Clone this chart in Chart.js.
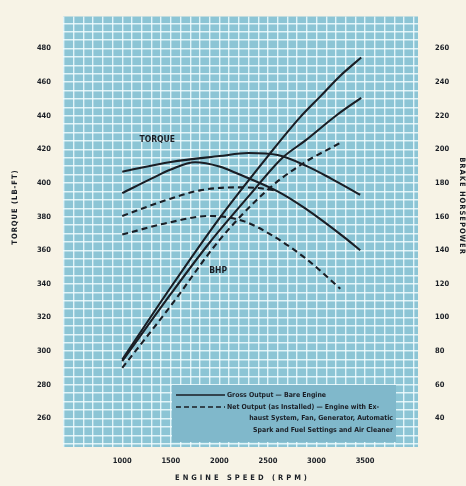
<!DOCTYPE html>
<html><head><meta charset="utf-8">
<script src="https://cdn.jsdelivr.net/npm/chart.js@4.4.0/dist/chart.umd.min.js"></script>
<style>html,body{margin:0;padding:0;background:#f7f3e6;overflow:hidden}</style>
</head><body>
<canvas id="c" width="466" height="486"></canvas>
<script>
// ---- data ----
const rpmTorqueA = [1000, 1500, 2000, 2300, 2600, 2900, 3150, 3450];
const torqueGrossA = [406.7, 412.5, 416, 417.8, 416.6, 410, 402.6, 393];
const rpmTorqueB = [1000, 1300, 1500, 1750, 2000, 2190, 2600, 2880, 3290, 3450];
const torqueGrossB = [394, 402.6, 408, 412.3, 409.8, 405.5, 395, 385, 367.5, 360];
const rpmTorqueC = [1000, 1450, 1800, 2150, 2400, 2600];
const torqueNetC = [380.4, 389.8, 395.6, 397.4, 397, 395.3];
const rpmTorqueD = [1000, 1460, 1900, 2245, 2550, 2900, 3245];
const torqueNetD = [369.3, 376.2, 380.4, 377.4, 368.6, 354.6, 337.1];
const rpmHp1 = [1000, 1500, 2000, 2500, 2830, 3040, 3240, 3460];
const hpGross1 = [75, 118, 159, 196, 219, 231.5, 243.5, 254.6];
const rpmHp2 = [1000, 1500, 1900, 2300, 2650, 2880, 3200, 3460];
const hpGross2 = [74, 114, 144.6, 172, 195, 205, 220, 230.6];
const rpmHp3 = [1000, 1500, 2000, 2490, 2830, 3250];
const hpNet3 = [70, 107, 146, 175.6, 190.5, 204];
const xTickLabels = [1000, 1500, 2000, 2500, 3000, 3500];
const torqueTickLabels = [260, 280, 300, 320, 340, 360, 380, 400, 420, 440, 460, 480];
const hpTickLabels = [40, 60, 80, 100, 120, 140, 160, 180, 200, 220, 240, 260];
const axisTitles = {x: 'ENGINE SPEED (RPM)', y: 'TORQUE (LB-FT)', y2: 'BRAKE HORSEPOWER'};
const legendLines = [
  'Gross Output \u2014 Bare Engine',
  'Net Output (as Installed) \u2014 Engine with Ex-',
  'haust System, Fan, Generator, Automatic',
  'Spark and Fuel Settings and Air Cleaner'
];

const pts = (xs, ys) => xs.map((x, i) => ({x, y: ys[i]}));
const INK = '#1a1e25';
const FAM = '"DejaVu Sans Condensed", "DejaVu Sans", sans-serif';
const tickFont = {family: FAM, size: 7.5, weight: 'bold'};

function line(label, xs, ys, axis, dashed) {
  return {label, data: pts(xs, ys), yAxisID: axis, borderColor: INK, borderWidth: 2.1,
    borderDash: dashed ? [6, 4] : [], pointRadius: 0, cubicInterpolationMode: 'monotone', fill: false};
}

const bgPlugin = {
  id: 'bg',
  beforeDraw(chart) {
    const {ctx, chartArea: a} = chart;
    ctx.save();
    ctx.fillStyle = '#f7f3e6';
    ctx.fillRect(0, 0, chart.width, chart.height);
    ctx.fillStyle = '#8cc5d5';
    ctx.fillRect(a.left, a.top, a.right - a.left, a.bottom - a.top);
    ctx.restore();
  },
  beforeDatasetsDraw(chart) {
    const {ctx, chartArea: a, scales} = chart;
    ctx.save();
    // legend box
    const bx = a.left + 109, by = a.bottom - 62, bw = 224, bh = 57;
    ctx.fillStyle = '#80b8cb';
    ctx.fillRect(bx, by, bw, bh);
    ctx.strokeStyle = INK; ctx.lineWidth = 1.6;
    ctx.beginPath(); ctx.moveTo(bx + 4, by + 10); ctx.lineTo(bx + 53, by + 10); ctx.stroke();
    ctx.setLineDash([5, 3]);
    ctx.beginPath(); ctx.moveTo(bx + 4, by + 22); ctx.lineTo(bx + 53, by + 22); ctx.stroke();
    ctx.setLineDash([]);
    ctx.fillStyle = INK;
    ctx.font = 'bold 6.9px ' + FAM;
    ctx.textBaseline = 'middle';
    ctx.textAlign = 'left';
    ctx.fillText(legendLines[0], bx + 55, by + 10);
    ctx.fillText(legendLines[1], bx + 55, by + 22);
    ctx.textAlign = 'right';
    ctx.fillText(legendLines[2], bx + bw - 3, by + 33);
    ctx.fillText(legendLines[3], bx + bw - 3, by + 45);
    // curve labels
    ctx.textAlign = 'center';
    ctx.font = 'bold 8.5px ' + FAM;
    ctx.fillText('TORQUE', scales.x.getPixelForValue(1360), scales.y.getPixelForValue(425.4));
    ctx.fillText('BHP', scales.x.getPixelForValue(1988), scales.y.getPixelForValue(347.6));
    ctx.restore();
  },
  afterDraw(chart) {
    const {ctx, chartArea: a} = chart;
    ctx.save();
    ctx.fillStyle = INK;
    ctx.textAlign = 'center';
    ctx.textBaseline = 'middle';
    ctx.font = 'bold 7.5px ' + FAM;
    if ('letterSpacing' in ctx) ctx.letterSpacing = '3px';
    ctx.fillText(axisTitles.x, (a.left + a.right) / 2 + 2, 478);
    if ('letterSpacing' in ctx) ctx.letterSpacing = '1px';
    ctx.save();
    ctx.translate(15, 207); ctx.rotate(-Math.PI / 2);
    ctx.fillText(axisTitles.y, 0, 0);
    ctx.restore();
    ctx.save();
    ctx.translate(462, 206); ctx.rotate(Math.PI / 2);
    ctx.fillText(axisTitles.y2, 0, 0);
    ctx.restore();
    ctx.restore();
  }
};

const range = (a, b, s) => { const r = []; for (let v = a; v <= b + 1e-9; v += s) r.push(v); return r; };
const gridWhite = {color: 'rgba(244,254,255,0.82)', lineWidth: 1.4, drawTicks: false};

new Chart(document.getElementById('c'), {
  type: 'line',
  data: {datasets: [
    line('Torque gross A', rpmTorqueA, torqueGrossA, 'y', false),
    line('Torque gross B', rpmTorqueB, torqueGrossB, 'y', false),
    line('Torque net C', rpmTorqueC, torqueNetC, 'y', true),
    line('Torque net D', rpmTorqueD, torqueNetD, 'y', true),
    line('BHP gross 1', rpmHp1, hpGross1, 'y2', false),
    line('BHP gross 2', rpmHp2, hpGross2, 'y2', false),
    line('BHP net 3', rpmHp3, hpNet3, 'y2', true)
  ]},
  options: {
    responsive: false, animation: false, devicePixelRatio: 1,
    layout: {padding: {top: 10, left: 0, right: 0, bottom: 0}},
    plugins: {legend: {display: false}, tooltip: {enabled: false}},
    scales: {
      x: {type: 'linear', position: 'bottom', min: 390, max: 4045,
        afterBuildTicks: s => { s.ticks = range(400, 4000, 100).map(v => ({value: v})); },
        afterFit: s => { s.height = 39; },
        grid: gridWhite, border: {display: false},
        ticks: {autoSkip: false, maxRotation: 0, padding: 10, color: INK, font: tickFont,
          callback: v => xTickLabels.includes(v) ? String(v) : ''}
      },
      y: {type: 'linear', position: 'left', min: 243, max: 499,
        afterBuildTicks: s => { s.ticks = range(245, 495, 5).map(v => ({value: v})); },
        afterFit: s => { s.width = 63; },
        grid: gridWhite, border: {display: false},
        ticks: {autoSkip: false, padding: 12, color: INK, font: tickFont,
          callback: v => torqueTickLabels.includes(v) ? String(v) : ''}
      },
      y2: {type: 'linear', position: 'right', min: 23, max: 279,
        afterBuildTicks: s => { s.ticks = hpTickLabels.map(v => ({value: v})); },
        afterFit: s => { s.width = 48; },
        grid: {display: false}, border: {display: false},
        ticks: {autoSkip: false, padding: 9, color: INK, font: tickFont,
          callback: v => String(v)}
      }
    }
  },
  plugins: [bgPlugin]
});
</script>
</body></html>
